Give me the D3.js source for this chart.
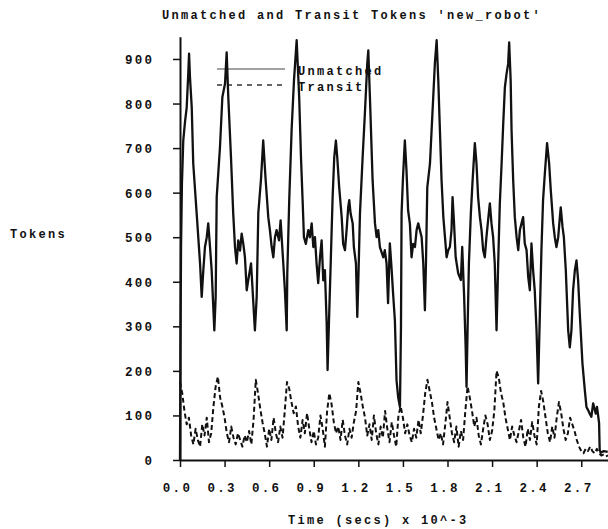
<!DOCTYPE html>
<html><head><meta charset="utf-8">
<script src="https://cdn.jsdelivr.net/npm/d3@7"></script>
<style>
html,body{margin:0;padding:0;background:#fff;}
svg text{font-family:"Liberation Mono","DejaVu Sans Mono",monospace;font-weight:bold;font-size:12px;letter-spacing:2.3px;fill:#111;}
</style></head><body><svg id="c" width="608" height="529"></svg>
<script>
const title = "Unmatched and Transit Tokens 'new_robot'";
const xLabel = "Time (secs) x 10^-3";
const yLabel = "Tokens";
const seriesNames = ["Unmatched", "Transit"];
const xTicks = [0, 0.3, 0.6, 0.9, 1.2, 1.5, 1.8, 2.1, 2.4, 2.7];
const yTicks = [0, 100, 200, 300, 400, 500, 600, 700, 800, 900];

const unmatchedTime = [0.000,0.003,0.007,0.013,0.022,0.034,0.045,0.056,0.061,0.067,0.079,0.089,0.112,0.135,0.146,0.157,0.168,0.180,0.190,0.202,0.213,0.231,0.240,0.247,0.269,0.285,0.303,0.314,0.325,0.343,0.358,0.370,0.381,0.392,0.404,0.415,0.426,0.437,0.449,0.459,0.478,0.486,0.504,0.516,0.527,0.545,0.560,0.576,0.594,0.605,0.617,0.628,0.639,0.650,0.666,0.677,0.695,0.706,0.718,0.722,0.735,0.751,0.767,0.785,0.802,0.814,0.825,0.834,0.847,0.863,0.874,0.886,0.897,0.908,0.919,0.930,0.942,0.953,0.964,0.975,0.987,0.993,1.004,1.014,1.027,1.038,1.049,1.058,1.071,1.088,1.098,1.110,1.121,1.132,1.139,1.148,1.162,1.170,1.184,1.193,1.200,1.211,1.229,1.244,1.260,1.267,1.278,1.296,1.312,1.323,1.334,1.345,1.368,1.378,1.390,1.400,1.412,1.423,1.434,1.446,1.457,1.468,1.480,1.487,1.491,1.500,1.513,1.524,1.535,1.547,1.558,1.569,1.581,1.592,1.603,1.614,1.626,1.637,1.648,1.655,1.664,1.682,1.693,1.704,1.715,1.727,1.738,1.749,1.760,1.772,1.783,1.794,1.805,1.816,1.827,1.834,1.843,1.855,1.872,1.890,1.899,1.912,1.922,1.928,1.935,1.944,1.957,1.969,1.984,1.995,2.006,2.018,2.029,2.040,2.051,2.062,2.078,2.085,2.096,2.107,2.118,2.130,2.141,2.152,2.164,2.175,2.186,2.197,2.208,2.215,2.225,2.231,2.242,2.253,2.265,2.276,2.287,2.298,2.309,2.320,2.332,2.343,2.354,2.365,2.376,2.387,2.399,2.410,2.421,2.432,2.443,2.455,2.470,2.484,2.495,2.511,2.522,2.533,2.545,2.556,2.562,2.574,2.583,2.596,2.612,2.623,2.634,2.645,2.657,2.668,2.679,2.690,2.708,2.724,2.735,2.746,2.757,2.768,2.780,2.798,2.806,2.820,2.824,2.831,2.851,2.878];
const unmatchedValue = [0,250,480,620,717,760,791,870,912,860,791,666,554,441,366,426,478,500,531,478,426,291,366,590,702,814,845,915,814,680,554,478,441,493,470,508,485,455,381,403,441,396,291,366,554,630,717,630,545,516,478,455,500,516,493,538,441,380,291,420,583,740,852,942,814,680,583,500,485,516,500,531,478,500,441,397,455,493,403,426,306,202,329,441,590,680,717,680,613,545,485,471,516,568,583,553,531,478,441,321,403,553,680,777,889,919,814,628,531,500,516,478,455,471,441,352,486,433,373,313,179,141,119,300,554,630,717,650,560,530,455,485,478,516,531,516,500,441,336,440,612,665,740,814,890,942,852,740,628,545,500,455,471,478,516,590,538,455,419,404,478,366,254,164,290,441,553,628,711,666,590,545,516,471,455,500,554,576,531,500,441,291,441,575,665,755,836,866,889,937,852,740,628,545,500,471,516,531,545,486,471,411,381,486,426,381,291,172,321,471,583,643,711,665,605,531,500,478,500,545,567,523,500,426,291,253,291,381,426,448,403,329,217,157,119,112,104,97,127,104,119,83,23,16,20,18];

const transitStart = 0.0;
const transitStep = 0.015;
const transitValue = [175,150,110,80,95,55,35,70,45,30,80,55,95,40,60,120,165,187,140,120,95,60,40,75,50,35,60,45,30,55,40,65,35,90,180,150,115,85,60,30,70,45,95,60,40,75,50,110,175,160,130,105,120,75,50,90,60,105,70,40,65,35,50,100,70,30,110,150,125,85,60,75,45,90,55,35,70,50,85,110,175,150,120,95,55,80,45,100,60,35,75,50,110,70,40,85,55,30,100,120,95,60,80,55,40,70,50,90,60,100,150,180,155,130,95,70,45,60,35,80,130,95,60,40,75,30,65,45,110,165,140,110,75,95,55,35,70,100,80,45,65,110,200,185,150,130,95,70,45,75,55,40,65,90,50,30,70,45,85,55,35,120,155,130,95,60,40,75,50,95,130,105,70,45,60,95,80,65,45,30,20,15,25,20,30,20,15,25,15,10,12,8,10];

const svg = d3.select("#c");
svg.append("rect").attr("width",608).attr("height",529).attr("fill","#fff");

const x = d3.scaleLinear().domain([0, 2.88]).range([180, 608]);
const y = d3.scaleLinear().domain([0, 950]).range([460, 36.7]);

// title and labels
svg.append("text").attr("x",162).attr("y",19).text(title);
svg.append("text").attr("x",10).attr("y",238).text(yLabel);
svg.append("text").attr("x",288).attr("y",524).text(xLabel);

// axes
const xAxis = svg.append("g").attr("transform","translate(0,460)")
  .call(d3.axisBottom(x).tickValues(xTicks).tickSize(7).tickSizeOuter(0).tickFormat(d3.format(".1f")));
xAxis.selectAll("text").attr("y",32).attr("dy",null).attr("dx",-3).style("font-size","12.5px");
const yAxis = svg.append("g").attr("transform","translate(180,0)")
  .call(d3.axisLeft(y).tickValues(yTicks).tickSize(7).tickSizeOuter(0));
yAxis.selectAll("text").attr("x",-25.7).attr("dy","0.36em").style("font-size","12.5px");
svg.selectAll(".domain").attr("stroke","#111").attr("stroke-width",2);
svg.selectAll(".tick line").attr("stroke","#111").attr("stroke-width",1.5);
svg.selectAll(".tick text").attr("fill","#111").attr("font-family",null).attr("font-size",null);

// legend
svg.append("line").attr("x1",217).attr("x2",285).attr("y1",69).attr("y2",69)
  .attr("stroke","#444").attr("stroke-width",1);
svg.append("line").attr("x1",217).attr("x2",285).attr("y1",85).attr("y2",85)
  .attr("stroke","#333").attr("stroke-width",1.3).attr("stroke-dasharray","5,5");
svg.append("text").attr("x",298).attr("y",75).text(seriesNames[0]);
svg.append("text").attr("x",298).attr("y",91).text(seriesNames[1]);

// series
const uData = unmatchedTime.map((t,i)=>({t, v: unmatchedValue[i]}));
const tData = transitValue.map((v,i)=>({t: transitStart + i*transitStep, v}));
const line = d3.line().x(d=>x(d.t)).y(d=>y(d.v));

svg.append("path").datum(tData).attr("d",line).attr("fill","none")
  .attr("stroke","#111").attr("stroke-width",2).attr("stroke-dasharray","5,3")
  .attr("stroke-linejoin","round");
svg.append("path").datum(uData).attr("d",line).attr("fill","none")
  .attr("stroke","#111").attr("stroke-width",2.3).attr("stroke-linejoin","round");
</script></body></html>
